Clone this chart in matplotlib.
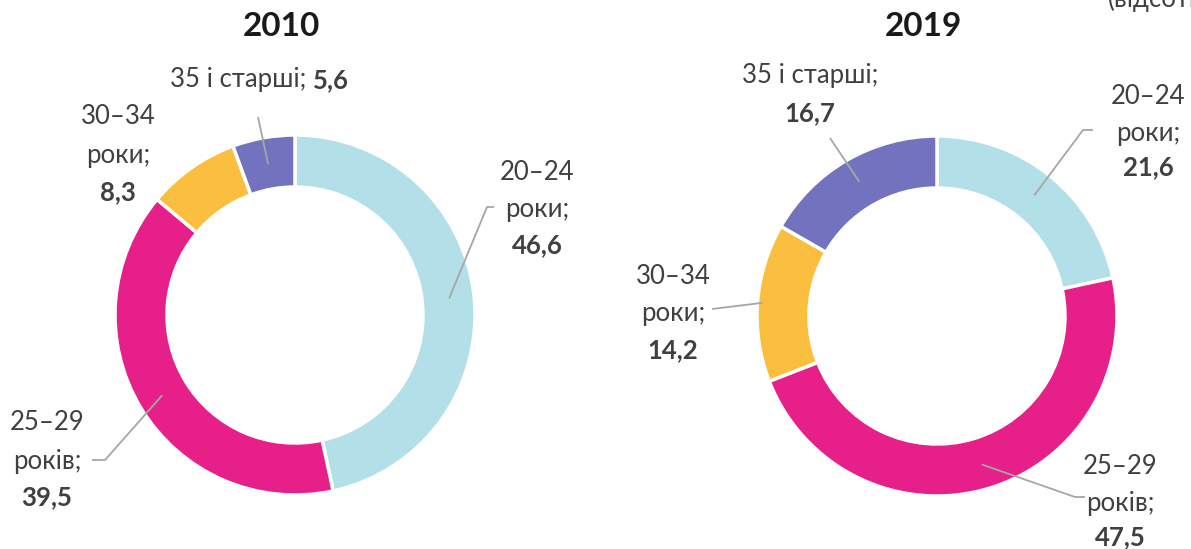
import numpy as np
import matplotlib.pyplot as plt

# вікові групи та частки (%)
cats = ['20–24', '25–29', '30–34', '35 і старші']
units = ['роки;', 'років;', 'роки;', '']
vals_2010 = [46.6, 39.5, 8.3, 5.6]
vals_2019 = [21.6, 47.5, 14.2, 16.7]
years = ['2010', '2019']
colors = ['#B3DFE9', '#E62088', '#FBBF3F', '#7372BF']

W, H = 1191, 549
TXT = '#404040'
LINE = '#A6A6A6'
FS = 18.5
plt.rcParams['font.family'] = ['Lato', 'Noto Sans', 'DejaVu Sans']

fig = plt.figure(figsize=(W / 100, H / 100), dpi=100)
ax = fig.add_axes([0, 0, 1, 1])

R, RING = 180, 52


def fmt(v):
    return f'{v:.1f}'.replace('.', ',')


def anchor(cx, cy, vals, i, r):
    start = sum(vals[:i])
    mid = start + vals[i] / 2
    ang = np.deg2rad(90 - mid / sum(vals) * 360)
    return cx + r * np.cos(ang), cy + r * np.sin(ang)


def leader(pts):
    xs, ys = zip(*pts)
    ax.plot(xs, ys, color=LINE, lw=1.3, solid_capstyle='butt')


def label3(x, ys, i, vals):
    ax.text(x, H - ys[0], cats[i], ha='center', va='center', fontsize=FS, color=TXT)
    ax.text(x, H - ys[1], units[i], ha='center', va='center', fontsize=FS, color=TXT)
    ax.text(x, H - ys[2], fmt(vals[i]), ha='center', va='center', fontsize=FS,
            fontweight='bold', color=TXT)


centers = [(295, H - 315), (937, H - 316)]
for (cx, cy), vals, yr in zip(centers, [vals_2010, vals_2019], years):
    ax.pie(vals, colors=colors, startangle=90, counterclock=False,
           center=(cx, cy), radius=R,
           wedgeprops=dict(width=RING, edgecolor='white', linewidth=2.5))
    ax.text(cx - 14, H - 26, yr, ha='center', va='center', fontsize=24,
            fontweight='bold', color='#1a1a1a')

# pie() resets the limits, so set the pixel frame afterwards
ax.set_xlim(0, W)
ax.set_ylim(0, H)
ax.set_aspect('equal')
ax.axis('off')

# 2010
cx, cy = centers[0]
label3(537, (172, 210, 245), 0, vals_2010)
leader([anchor(cx, cy, vals_2010, 0, 155), (487, H - 207), (494, H - 207)])
label3(47, (423, 462, 497), 1, vals_2010)
leader([anchor(cx, cy, vals_2010, 1, 155), (105, H - 460), (92, H - 460)])
label3(118, (117, 155, 192), 2, vals_2010)
ax.text(306, H - 80, cats[3] + ';', ha='right', va='center', fontsize=FS, color=TXT)
ax.text(313, H - 80, fmt(vals_2010[3]), ha='left', va='center', fontsize=FS,
        fontweight='bold', color=TXT)
leader([anchor(cx, cy, vals_2010, 3, 153), (258, H - 117)])

# 2019
cx, cy = centers[1]
label3(1148, (97, 133, 167), 0, vals_2019)
leader([anchor(cx, cy, vals_2019, 0, 155), (1083, H - 130), (1093, H - 130)])
label3(1120, (467, 503, 537), 1, vals_2019)
leader([anchor(cx, cy, vals_2019, 1, 155), (1075, H - 497), (1085, H - 497)])
label3(673, (277, 313, 350), 2, vals_2019)
leader([anchor(cx, cy, vals_2019, 2, 175), (712, H - 309)])
ax.text(810, H - 76, cats[3] + ';', ha='center', va='center', fontsize=FS, color=TXT)
ax.text(810, H - 113, fmt(vals_2019[3]), ha='center', va='center', fontsize=FS,
        fontweight='bold', color=TXT)
leader([anchor(cx, cy, vals_2019, 3, 155), (830, H - 138)])

ax.text(1108, H - 7, '(відсотків)', ha='left', va='baseline', fontsize=FS, color=TXT)

fig.savefig('out.png', dpi=100)
